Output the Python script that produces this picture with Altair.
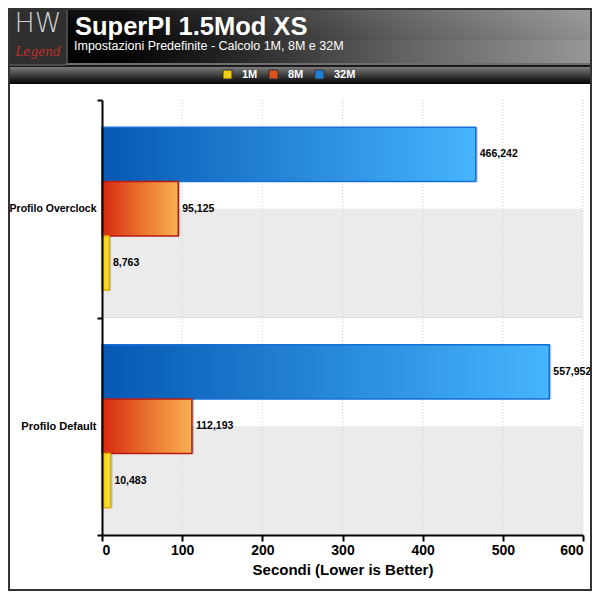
import altair as alt
import pandas as pd

# ---- data ----
categories = ["Profilo Overclock", "Profilo Default"]
series = ["1M", "8M", "32M"]
values_1M = [8.763, 10.483]
values_8M = [95.125, 112.193]
values_32M = [466.242, 557.952]
x_ticks = [0, 100, 200, 300, 400, 500, 600]

title_text = "SuperPI 1.5Mod XS"
subtitle_text = "Impostazioni Predefinite - Calcolo 1M, 8M e 32M"
x_title = "Secondi (Lower is Better)"

rows = []
for s, vals in zip(series, [values_1M, values_8M, values_32M]):
    for c, v in zip(categories, vals):
        rows.append({"cat": c, "series": s, "value": v})
df = pd.DataFrame(rows)
ticks_df = pd.DataFrame({"t": x_ticks[1:]})
one = pd.DataFrame({"a": [0]})

W, H = 481, 435
FONT = "Liberation Sans"

# ---- styles ----
def grad(stops, vertical=False):
    return alt.LinearGradient(
        gradient="linear",
        stops=[alt.GradientStop(color=c, offset=o) for o, c in stops],
        x1=0, y1=0, x2=0 if vertical else 1, y2=1 if vertical else 0,
    )

bar_style = {
    "32M": (grad([(0, "#0658b4"), (1, "#46b5fd")]), "#1470d6"),
    "8M": (grad([(0, "#d6280f"), (0.5, "#e9702e"), (1, "#f8b252")]), "#b81a10"),
    "1M": (grad([(0, "#f0c400"), (1, "#ffe94a")]), "#e6b000"),
}
legend_colors = ["#f2cd10", "#df521c", "#1f80da"]

x_scale = alt.Scale(domain=[0, 600], nice=False, zero=True)
y_scale = alt.Scale(paddingInner=0, paddingOuter=0)
yoff = alt.YOffset("series:N", sort=["32M", "8M", "1M"],
                   scale=alt.Scale(domain=["32M", "8M", "1M"], paddingInner=0, paddingOuter=0.5))

x_axis = alt.Axis(
    title=x_title, values=x_ticks, grid=False, domainColor="black", domainWidth=2,
    tickColor="black", tickWidth=2, tickSize=6, labelFont=FONT, labelFontSize=14,
    labelFontWeight="bold", labelColor="black", labelPadding=2, titleFont=FONT,
    titleFontSize=15, titleFontWeight="bold", titleColor="black", titlePadding=5, zindex=1,
)
y_axis = alt.Axis(
    title=None, tickBand="extent", grid=False, domainColor="black", domainWidth=2,
    tickColor="black", tickWidth=2, tickSize=5, labelFont=FONT,
    labelFontSize={"condition": {"test": "datum.value == 'Profilo Overclock'", "value": 10.5}, "value": 11},
    labelFontWeight="bold", labelColor="black", labelPadding=1, labelLimit=200, zindex=1,
)

base = alt.Chart(df)

# ---- decorations in plot area ----
band1 = alt.Chart(one).mark_rect(color="#ebebeb").encode(
    x=alt.value(0), x2=alt.value(W), y=alt.value(H / 4), y2=alt.value(H / 2))
band2 = alt.Chart(one).mark_rect(color="#ebebeb").encode(
    x=alt.value(0), x2=alt.value(W), y=alt.value(3 * H / 4), y2=alt.value(H))
sep = alt.Chart(one).mark_rule(color="#dcdcdc", strokeWidth=1).encode(
    x=alt.value(0), x2=alt.value(W), y=alt.value(H / 2))
grid = alt.Chart(ticks_df).mark_rule(color="#cfcfcf", strokeDash=[1, 2], strokeWidth=1).encode(
    x=alt.X("t:Q", scale=x_scale, axis=x_axis), y=alt.value(0), y2=alt.value(H))

# ---- bars ----
layers = []
for s in ["32M", "8M", "1M"]:
    fill, stroke = bar_style[s]
    shadow = base.transform_filter(alt.datum.series == s).mark_bar(
        color="#000000", opacity=0.22, xOffset=2, yOffset=2, x2Offset=2, y2Offset=2).encode(
        x=alt.X("value:Q", scale=x_scale, axis=x_axis),
        y=alt.Y("cat:N", sort=categories, scale=y_scale, axis=y_axis),
        yOffset=yoff,
    )
    bar = base.transform_filter(alt.datum.series == s).mark_bar(
        fill=fill, stroke=stroke, strokeWidth=1.5).encode(
        x=alt.X("value:Q", scale=x_scale, axis=x_axis),
        y=alt.Y("cat:N", sort=categories, scale=y_scale, axis=y_axis),
        yOffset=yoff,
    )
    layers += [shadow, bar]

labels = base.transform_calculate(
    label="replace(format(datum.value, '.3f'), '.', ',')").mark_text(
    align="left", baseline="middle", dx=4, font=FONT, fontSize=10.5, fontWeight="bold", color="black").encode(
    x=alt.X("value:Q", scale=x_scale, axis=x_axis),
    y=alt.Y("cat:N", sort=categories, scale=y_scale, axis=y_axis),
    yOffset=yoff,
    text="label:N",
)

# ---- header ----
OX, OY = -94, -92
header = alt.Chart(one).mark_rect(
    fill=grad([(0, "#000000"), (0.2, "#050505"), (0.33, "#1c1c1c"), (0.5, "#3e3e3e"),
               (0.67, "#616161"), (1, "#979797")])).encode(
    x=alt.value(OX), x2=alt.value(OX + 584), y=alt.value(OY), y2=alt.value(-37))
header_gloss = alt.Chart(one).mark_rect(
    fill=grad([(0, "#ffffff"), (1, "#000000")], vertical=True), opacity=0.06).encode(
    x=alt.value(OX), x2=alt.value(OX + 584), y=alt.value(OY), y2=alt.value(-60))
header_line = alt.Chart(one).mark_rect(color="#6e6e6e").encode(
    x=alt.value(OX), x2=alt.value(OX + 584), y=alt.value(-37), y2=alt.value(-35))
header_dark = alt.Chart(one).mark_rect(color="#1a1a1a").encode(
    x=alt.value(OX), x2=alt.value(OX + 584), y=alt.value(-35), y2=alt.value(-33))
legbar = alt.Chart(one).mark_rect(
    fill=grad([(0, "#7c7c7c"), (0.3, "#555555"), (0.7, "#232323"), (1, "#060606")], vertical=True)).encode(
    x=alt.value(OX), x2=alt.value(OX + 584), y=alt.value(-33), y2=alt.value(-16))
logo = alt.Chart(one).mark_rect(fill="#2f2f2f", stroke="#5a5a5a", strokeWidth=1.5, cornerRadius=3).encode(
    x=alt.value(-93), x2=alt.value(-35), y=alt.value(-91), y2=alt.value(-35))
logo_hw = alt.Chart(one).mark_text(
    text="HW", font="DejaVu Sans ExtraLight, DejaVu Sans", fontSize=27, fontWeight=200, color="#d0d0d0",
    align="center", baseline="middle").encode(
    x=alt.value(-64), y=alt.value(-76))
logo_leg = alt.Chart(one).mark_text(
    text="Legend", font="DejaVu Serif", fontSize=12, fontStyle="italic", color="#c0302a",
    align="center", baseline="alphabetic").encode(
    x=alt.value(-64), y=alt.value(-44))
title = alt.Chart(one).mark_text(
    text=title_text, font=FONT, fontSize=25.5, fontWeight="bold", color="white", align="left",
    baseline="alphabetic").encode(
    x=alt.value(-27), y=alt.value(-65))
subtitle = alt.Chart(one).mark_text(
    text=subtitle_text, font=FONT, fontSize=12.5, color="white", align="left", baseline="alphabetic").encode(
    x=alt.value(-28), y=alt.value(-50))
frame = alt.Chart(one).mark_rect(filled=False, stroke="#333333", strokeWidth=2).encode(
    x=alt.value(OX + 1), x2=alt.value(OX + 583), y=alt.value(OY + 1), y2=alt.value(OY + 582))

legend_layer = base.mark_square(opacity=0).encode(
    x=alt.X("value:Q", scale=x_scale, axis=x_axis),
    y=alt.Y("cat:N", sort=categories, scale=y_scale, axis=y_axis),
    color=alt.Color("series:N", scale=alt.Scale(domain=series, range=legend_colors),
                    legend=alt.Legend(
                        orient="none", legendX=120, legendY=-31, direction="horizontal", title=None,
                        symbolType="square", symbolSize=81, symbolOpacity=1, symbolStrokeColor="#333333",
                        symbolStrokeWidth=1, labelColor="white", labelFont=FONT, labelFontSize=11,
                        labelFontWeight="bold", labelOffset=9, columnPadding=9)),
)

chart = alt.layer(
    header, header_gloss, header_line, header_dark, legbar, logo, logo_hw, logo_leg, title, subtitle,
    band1, band2, sep, grid, *layers, labels, legend_layer, frame,
).properties(
    width=W, height=H,
    autosize=alt.AutoSizeParams(type="none"),
    padding={"left": 94, "top": 92, "right": 9, "bottom": 56},
    background="white",
).configure_view(strokeWidth=0)

chart.save("out.html", embed_options={"renderer": "svg", "actions": False})
